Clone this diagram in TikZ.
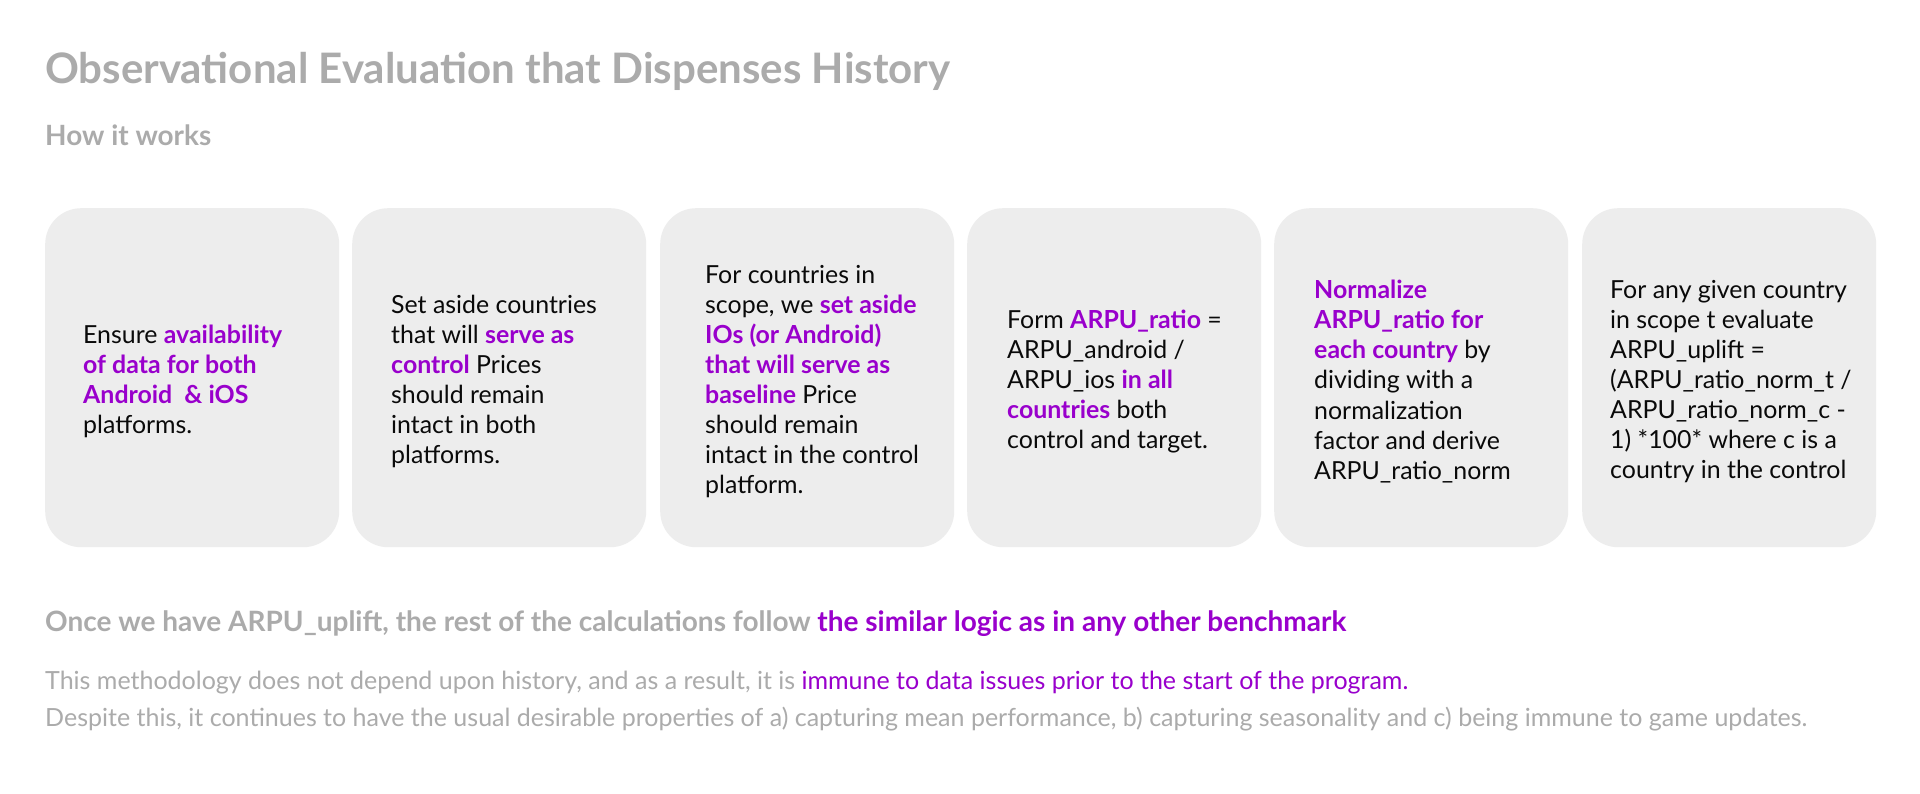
\documentclass[tikz,border=0pt]{standalone}
\usepackage{fontspec}
\setmainfont{Lato}
\usetikzlibrary{positioning}
\definecolor{tgray}{HTML}{ABABAB}
\definecolor{purp}{HTML}{9900CC}
\definecolor{boxfill}{HTML}{EDEDED}
\definecolor{ink}{HTML}{0A0A0A}
\newcommand{\hl}[1]{\textbf{\textcolor{purp}{#1}}}
\tikzset{
  stepbox/.style={fill=boxfill, draw=none, rounded corners=36pt, minimum width=294pt, minimum height=339pt, inner sep=0pt, anchor=north west},
  steptext/.style={anchor=west, align=left, inner sep=0pt, text=ink, font=\fontsize{24.9}{30.1}\selectfont},
  heading/.style={anchor=base west, inner sep=0pt, text=tgray, font=\bfseries},
}
\begin{document}
\begin{tikzpicture}[x=1pt,y=-1pt]
\useasboundingbox (0,0) rectangle (1920,793);
\fill[white] (0,0) rectangle (1920,793);
\node[heading, font=\bfseries\fontsize{42}{46}\selectfont] (title) at (45,83) {Observational Evaluation that Dispenses History};
\node[heading, font=\bfseries\fontsize{27.9}{32}\selectfont] (sub) at (45,145) {How it works};
% boxes
\node[stepbox] (b1) at (45,208) {};
\node[stepbox] (b2) at (352,208) {};
\node[stepbox] (b3) at (660,208) {};
\node[stepbox] (b4) at (967,208) {};
\node[stepbox] (b5) at (1274,208) {};
\node[stepbox] (b6) at (1582,208) {};
% texts
\node[steptext] (t1) at (83,381.5) {Ensure \hl{availability}\\ \hl{of data for both}\\ \hl{Android\ \ \& iOS}\\ platforms.};
\node[steptext] (t2) at (391,381.5) {Set aside countries\\ that will \hl{serve as}\\ \hl{control} Prices\\ should remain\\ intact in both\\ platforms.};
\node[steptext] (t3) at (705,381.5) {For countries in\\ scope, we \hl{set aside}\\ \hl{IOs (or Android)}\\ \hl{that will serve as}\\ \hl{baseline} Price\\ should remain\\ intact in the control\\ platform.};
\node[steptext] (t4) at (1007,381.5) {Form \hl{ARPU\_ratio} =\\ ARPU\_android /\\ ARPU\_ios \hl{in all}\\ \hl{countries} both\\ control and target.};
\node[steptext] (t5) at (1314,381.5) {\hl{Normalize}\\ \hl{ARPU\_ratio for}\\ \hl{each country} by\\ dividing with a\\ normalization\\ factor and derive\\ ARPU\_ratio\_norm};
\node[steptext] (t6) at (1610,381.5) {For any given country\\ in scope t evaluate\\ ARPU\_uplift =\\ (ARPU\_ratio\_norm\_t /\\ ARPU\_ratio\_norm\_c -\\ 1) *100* where c is a\\ country in the control};
% bottom texts
\node[heading, font=\bfseries\fontsize{28}{32}\selectfont] (once) at (45,631) {Once we have ARPU\_uplift, the rest of the calculations follow \textcolor{purp}{the similar logic as in any other benchmark}};
\node[heading, font=\fontsize{25}{30}\selectfont] (note1) at (45,689) {This methodology does not depend upon history, and as a result, it is \textcolor{purp}{immune to data issues prior to the start of the program.}};
\node[heading, font=\fontsize{25}{30}\selectfont] (note2) at (45,726) {Despite this, it continues to have the usual desirable properties of a) capturing mean performance, b) capturing seasonality and c) being immune to game updates.};
\end{tikzpicture}
\end{document}
